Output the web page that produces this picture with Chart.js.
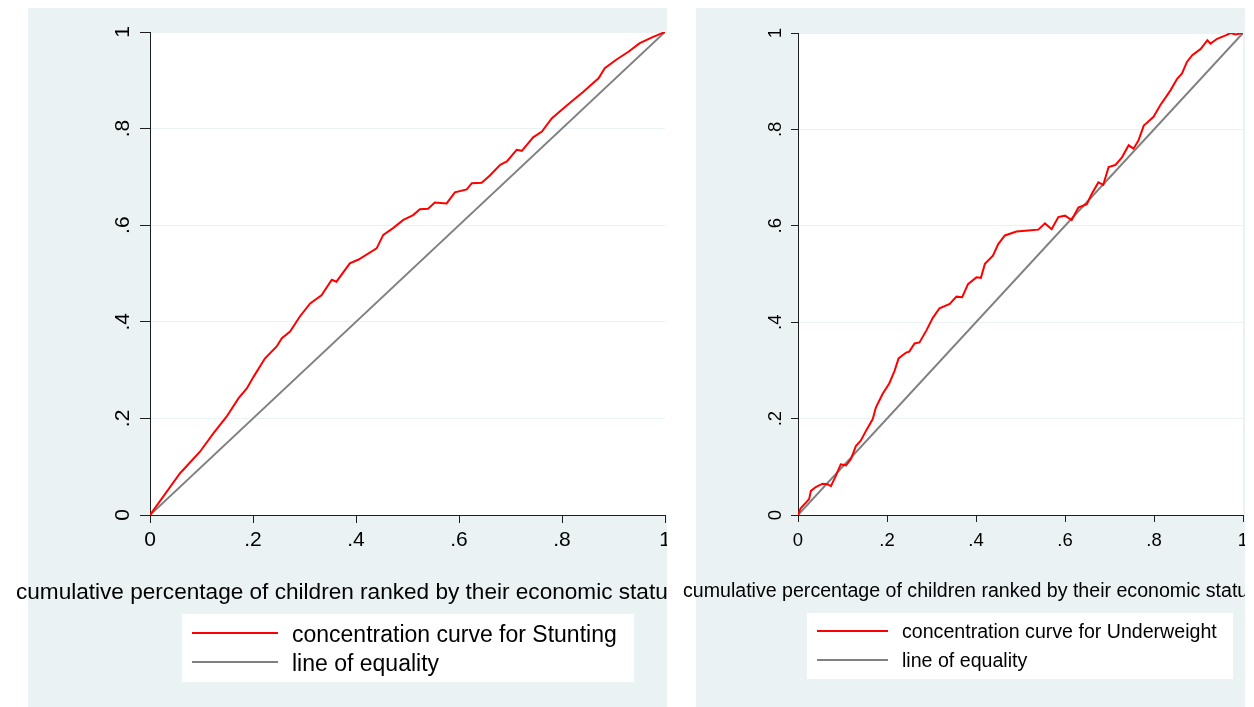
<!DOCTYPE html>
<html>
<head>
<meta charset="utf-8">
<title>Concentration curves</title>
<script src="https://cdn.jsdelivr.net/npm/chart.js@4.4.1/dist/chart.umd.min.js"></script>
<style>
  html, body { margin: 0; padding: 0; background: #fff; }
  body { width: 1254px; height: 707px; position: relative; overflow: hidden; }
  .panel { position: absolute; top: 8px; height: 699px; background: #eaf2f3; }
  #bgLeft { left: 28px; width: 639px; }
  #bgRight { left: 696px; width: 549px; }
  .wrap { position: absolute; top: 8px; height: 699px; }
  #wrapLeft { left: 10px; width: 657px; }
  #wrapRight { left: 670px; width: 575px; }
</style>
</head>
<body>
<div class="panel" id="bgLeft"></div>
<div class="panel" id="bgRight"></div>
<div class="wrap" id="wrapLeft"><canvas id="chartLeft" width="657" height="699"></canvas></div>
<div class="wrap" id="wrapRight"><canvas id="chartRight" width="575" height="699"></canvas></div>
<script>
// values
const stuntingX = [0, .058, .097, .123, .149, .172, .188, .201, .223, .246, .256, .272, .291, .311, .333, .353, .362, .388, .405, .440,
  .453, .472, .492, .511, .524, .540, .553, .576, .592, .615, .625, .644, .660, .680, .693, .712, .722, .744, .761, .780,
  .803, .822, .841, .861, .871, .883, .906, .929, .951, .977, 1];
const stuntingY = [0, .086, .131, .169, .204, .242, .262, .286, .324, .349, .366, .380, .411, .438, .455, .487, .483, .521, .529, .552,
  .580, .594, .611, .621, .633, .634, .647, .645, .668, .674, .687, .688, .703, .725, .732, .756, .754, .782, .794, .821,
  .842, .859, .876, .895, .904, .925, .943, .959, .977, .990, 1];

const underweightX = [0, .006, .025, .029, .040, .055, .066, .074, .085, .096, .108, .119, .130, .141, .153, .168, .175, .190, .205, .217,
  .226, .243, .250, .262, .273, .288, .303, .318, .341, .356, .369, .382, .401, .411, .420, .438, .450, .465, .491, .517,
  .540, .555, .570, .585, .600, .615, .630, .649, .660, .675, .686, .698, .713, .728, .743, .754, .765, .777, .788, .799,
  .814, .829, .837, .852, .863, .874, .886, .905, .920, .927, .942, .961, .972, .983, 1];
const underweightY = [0, .014, .033, .050, .058, .065, .064, .060, .081, .105, .103, .116, .143, .154, .175, .199, .223, .251, .273, .299,
  .325, .337, .339, .356, .358, .382, .409, .429, .438, .453, .452, .479, .493, .492, .521, .538, .562, .580, .588, .590,
  .592, .605, .593, .618, .621, .612, .638, .645, .666, .690, .685, .722, .726, .742, .767, .760, .777, .808, .817, .826,
  .850, .870, .881, .905, .916, .940, .954, .967, .985, .978, .988, .995, 1, .997, 1];

const equalityX = [0, 1];
const equalityY = [0, 1];

const tickValues = [0, .2, .4, .6, .8, 1];
const xTitle = 'cumulative percentage of children ranked by their economic status';
const equalityLabel = 'line of equality';

const FONT = '"Liberation Sans", Arial, Helvetica, sans-serif';
const GRID = '#eaf2f3';
const AXIS = '#1e1e1e';

Chart.defaults.font.family = FONT;
Chart.defaults.color = '#000';

const toPoints = (xs, ys) => xs.map((x, i) => ({ x: x, y: ys[i] }));
const fmtTick = v => {
  const r = Math.round(v * 10) / 10;
  if (r === 0) return '0';
  if (r === 1) return '1';
  return r.toFixed(1).replace(/^0/, '');
};

// white plot region, x title and the boxed legend (stata style)
const stataPanel = {
  id: 'stataPanel',
  beforeDraw(chart, args, opts) {
    const { ctx, chartArea: a } = chart;
    const right = opts.fillToEdge ? chart.width : a.right;
    ctx.save();
    ctx.fillStyle = '#fff';
    ctx.fillRect(a.left, a.top, right - a.left, a.bottom - a.top);
    ctx.restore();
  },
  afterDraw(chart, args, opts) {
    const ctx = chart.ctx;
    ctx.save();
    ctx.fillStyle = '#000';
    ctx.textBaseline = 'alphabetic';
    ctx.textAlign = 'center';
    ctx.font = opts.titleSize + 'px ' + FONT;
    ctx.fillText(xTitle, opts.titleX, opts.titleY);

    const b = opts.legend;
    ctx.fillStyle = '#fff';
    ctx.fillRect(b.x, b.y, b.w, b.h);
    ctx.textAlign = 'left';
    ctx.font = b.size + 'px ' + FONT;
    chart.data.datasets.forEach((ds, i) => {
      const y = b.row0 + i * b.rowGap;
      ctx.strokeStyle = ds.borderColor;
      ctx.lineWidth = ds.borderWidth;
      ctx.beginPath();
      ctx.moveTo(b.line0, y);
      ctx.lineTo(b.line1, y);
      ctx.stroke();
      ctx.fillStyle = '#000';
      ctx.fillText(ds.label, b.textX, y + b.baseOff);
    });
    ctx.restore();
  }
};

function makeChart(id, curveLabel, xs, ys, cfg) {
  return new Chart(document.getElementById(id), {
    type: 'line',
    data: {
      datasets: [
        {
          label: curveLabel,
          data: toPoints(xs, ys),
          borderColor: '#ff0000',
          borderWidth: 2,
          pointRadius: 0,
          tension: 0
        },
        {
          label: equalityLabel,
          data: toPoints(equalityX, equalityY),
          borderColor: '#808080',
          borderWidth: 2,
          pointRadius: 0
        }
      ]
    },
    options: {
      responsive: false,
      animation: false,
      events: [],
      layout: { padding: { left: 0, right: 2, top: cfg.top, bottom: 0 } },
      scales: {
        x: {
          type: 'linear',
          min: 0,
          max: 1,
          afterBuildTicks: s => { s.ticks = tickValues.map(v => ({ value: v })); },
          afterFit: s => { s.height = 192; s.paddingLeft = 0; s.paddingRight = 0; },
          ticks: { callback: fmtTick, font: { size: cfg.tickSize }, padding: cfg.xPad, maxRotation: 0, autoSkip: false },
          grid: { drawOnChartArea: false, tickLength: cfg.xTick, tickColor: AXIS, tickWidth: 1 },
          border: { display: true, color: AXIS, width: 1 }
        },
        y: {
          min: 0,
          max: 1,
          afterBuildTicks: s => { s.ticks = tickValues.map(v => ({ value: v })); },
          afterFit: s => { s.width = cfg.yWidth; s.paddingTop = 0; s.paddingBottom = 0; },
          ticks: {
            callback: fmtTick,
            font: { size: cfg.tickSize },
            padding: cfg.yPad,
            minRotation: 90,
            maxRotation: 90,
            crossAlign: 'center'
          },
          grid: { color: GRID, lineWidth: 1, tickLength: cfg.yTick, tickColor: AXIS, tickWidth: 1 },
          border: { display: true, color: AXIS, width: 1 }
        }
      },
      plugins: {
        legend: { display: false },
        tooltip: { enabled: false },
        stataPanel: cfg.panel
      }
    },
    plugins: [stataPanel]
  });
}

makeChart('chartLeft', 'concentration curve for Stunting', stuntingX, stuntingY, {
  top: 24, yWidth: 140, tickSize: 21, xPad: 5, xTick: 8, yPad: 8, yTick: 10,
  panel: {
    fillToEdge: true,
    titleSize: 22.6, titleX: 337.5, titleY: 591,
    legend: { x: 172, y: 606, w: 452, h: 68, size: 23, row0: 625, rowGap: 29, line0: 182, line1: 268, textX: 282, baseOff: 8.5 }
  }
});

makeChart('chartRight', 'concentration curve for Underweight', underweightX, underweightY, {
  top: 25, yWidth: 128, tickSize: 18.5, xPad: 7.5, xTick: 7, yPad: 7.3, yTick: 7,
  panel: {
    fillToEdge: false,
    titleSize: 19.6, titleX: 300.5, titleY: 589.3,
    legend: { x: 137, y: 605, w: 426, h: 66, size: 19.6, row0: 623, rowGap: 29, line0: 147, line1: 218, textX: 232, baseOff: 7 }
  }
});
</script>
</body>
</html>
